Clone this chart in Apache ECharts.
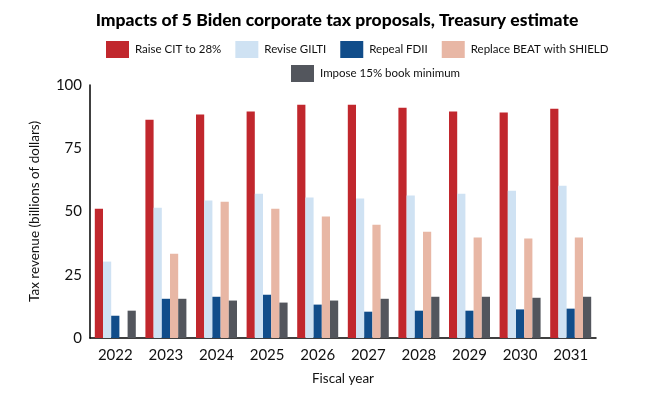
<!DOCTYPE html>
<html><head><meta charset="utf-8">
<script src="https://cdn.jsdelivr.net/npm/echarts@6/dist/echarts.min.js"></script>
<style>html,body{margin:0;padding:0;background:#fff}#c{width:661px;height:393px}</style>
</head><body><div id="c"></div>
<script>
var years = ['2022','2023','2024','2025','2026','2027','2028','2029','2030','2031'];
var raiseCIT = [51.1, 86.3, 88.3, 89.5, 92.2, 92.2, 91.0, 89.5, 89.1, 90.6];
var reviseGILTI = [30.2, 51.5, 54.3, 57.0, 55.5, 55.1, 56.3, 57.0, 58.2, 60.2];
var repealFDII = [8.8, 15.5, 16.3, 17.1, 13.2, 10.4, 10.8, 10.8, 11.3, 11.6];
var replaceBEAT = [0, 33.3, 53.9, 51.1, 48.0, 44.8, 42.0, 39.7, 39.3, 39.7];
var bookMin = [10.8, 15.5, 14.8, 14.0, 14.8, 15.5, 16.3, 16.3, 15.9, 16.3];
var seriesNames = ['Raise CIT to 28%','Revise GILTI','Repeal FDII','Replace BEAT with SHIELD','Impose 15% book minimum'];
var seriesData = [raiseCIT, reviseGILTI, repealFDII, replaceBEAT, bookMin];
var colors = ['#c1272d','#cfe2f3','#114d8a','#e8b7a5','#53565d'];
var yTicks = [0,25,50,75,100];

var font = 'Lato';
var chart = echarts.init(document.getElementById('c'));
var legendBase = {
  itemWidth: 23, itemHeight: 17, itemGap: 14, icon: 'rect',
  textStyle: {fontFamily: font, fontSize: 11.5, color: '#111', padding: [0,0,0,1]}
};
chart.setOption({
  animation: false,
  title: {text: 'Impacts of 5 Biden corporate tax proposals, Treasury estimate', left: 332, textAlign: 'center', top: 6,
    textStyle: {fontFamily: font, fontWeight: 900, fontSize: 17.5, color: '#000'}},
  legend: [
    Object.assign({}, legendBase, {left: 101, top: 36, data: seriesNames.slice(0,4)}),
    Object.assign({}, legendBase, {left: 286, top: 60, data: seriesNames.slice(4)})
  ],
  grid: {left: 90, right: 65, top: 85, bottom: 55},
  xAxis: {type: 'category', data: years,
    name: 'Fiscal year', nameLocation: 'middle', nameGap: 34,
    nameTextStyle: {fontFamily: font, fontSize: 13.5, color: '#111'},
    axisLine: {lineStyle: {color: '#000', width: 1.5}}, axisTick: {show: false},
    axisLabel: {fontFamily: font, fontSize: 15, color: '#111', margin: 10}},
  yAxis: {type: 'value', min: 0, max: 100, interval: 25,
    name: 'Tax revenue (billions of dollars)', nameLocation: 'middle', nameGap: 48,
    nameTextStyle: {fontFamily: font, fontSize: 13.5, color: '#111'},
    axisLine: {show: true, lineStyle: {color: '#000', width: 1.5}}, axisTick: {show: false},
    splitLine: {show: false},
    axisLabel: {fontFamily: font, fontSize: 15, color: '#111', margin: 8, padding: [6,0,0,0]}},
  series: seriesNames.map(function(n, i){
    return {name: n, type: 'bar', data: seriesData[i], barGap: '0%', barCategoryGap: '19%',
      itemStyle: {color: colors[i]}};
  })
});
</script></body></html>
